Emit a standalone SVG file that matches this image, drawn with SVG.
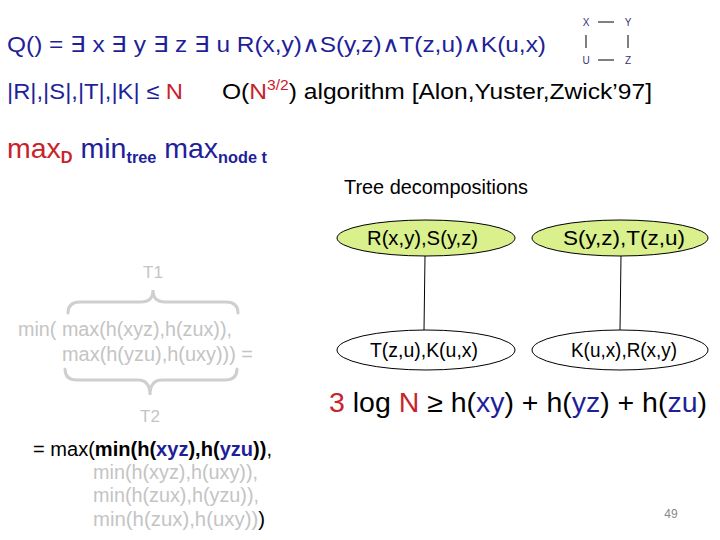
<svg xmlns="http://www.w3.org/2000/svg" width="720" height="540" viewBox="0 0 720 540">
<style>
text{font-family:"Liberation Sans",Arial,sans-serif}
.b{fill:#1f1f99}.r{fill:#c8232c}.k{fill:#000}.g{fill:#c4c4c4}
.lab{font-size:20px;fill:#000}
.node-g{fill:#d9f08c;stroke:#000;stroke-width:1}
.node-w{fill:#fff;stroke:#000;stroke-width:1}
.edge{stroke:#000;stroke-width:1;fill:none}
.brace{stroke:#cfcfcf;stroke-width:3;fill:none;stroke-linecap:round}
.sm{font-size:10px;fill:#333377;text-anchor:middle}
</style>
<rect width="720" height="540" fill="#fff"/>
<text x="7" y="52" font-size="22" class="b" textLength="539" lengthAdjust="spacingAndGlyphs">Q() =  ∃ x ∃ y ∃ z ∃ u R(x,y)∧S(y,z)∧T(z,u)∧K(u,x)</text>
<g id="mini">
<text x="586" y="26" class="sm">X</text><text x="628" y="26" class="sm">Y</text>
<text x="586" y="64" class="sm">U</text><text x="628" y="64" class="sm">Z</text>
<path d="M598 22H614M598 60H614M586 35V48M628 35V48" stroke="#000" stroke-width="1"/>
</g>
<text x="7" y="99" font-size="22" class="b" textLength="176" lengthAdjust="spacingAndGlyphs">|R|,|S|,|T|,|K| ≤ <tspan class="r">N</tspan></text>
<text x="222" y="99" font-size="22" class="k" textLength="430" lengthAdjust="spacingAndGlyphs">O(<tspan class="r">N</tspan><tspan class="r" font-size="14" dy="-9">3/2</tspan><tspan dy="9">) algorithm [Alon,Yuster,Zwick’97]</tspan></text>
<text x="7" y="158" font-size="28" textLength="260" lengthAdjust="spacingAndGlyphs"><tspan class="r">max</tspan><tspan class="r" font-size="16" font-weight="bold" dy="5">D</tspan><tspan class="b" dy="-5"> min</tspan><tspan class="b" font-size="16" font-weight="bold" dy="5">tree</tspan><tspan class="b" dy="-5"> max</tspan><tspan class="b" font-size="16" font-weight="bold" dy="5">node t</tspan></text>
<text x="344" y="194" font-size="20" class="k" textLength="184" lengthAdjust="spacingAndGlyphs">Tree decompositions</text>
<g id="connectors">
<line class="edge" x1="425" y1="256" x2="424" y2="330"/>
<line class="edge" x1="621" y1="256" x2="620" y2="330"/>
</g>
<g id="n1"><ellipse class="node-g" cx="426" cy="238" rx="89" ry="18"/><text class="lab" x="367" y="245" textLength="111" lengthAdjust="spacingAndGlyphs">R(x,y),S(y,z)</text></g>
<g id="n2"><ellipse class="node-g" cx="620" cy="238" rx="88" ry="18"/><text class="lab" x="563" y="245" textLength="122" lengthAdjust="spacingAndGlyphs">S(y,z),T(z,u)</text></g>
<g id="n3"><ellipse class="node-w" cx="426" cy="350" rx="89" ry="20"/><text class="lab" x="370" y="357" textLength="108" lengthAdjust="spacingAndGlyphs">T(z,u),K(u,x)</text></g>
<g id="n4"><ellipse class="node-w" cx="620" cy="350" rx="88" ry="20"/><text class="lab" x="571" y="357" textLength="106" lengthAdjust="spacingAndGlyphs">K(u,x),R(x,y)</text></g>
<text x="153" y="278" font-size="17" class="g" text-anchor="middle">T1</text>
<path class="brace" d="M68 313Q68 302 80 302H141Q153 302 153 290Q153 302 165 302H226Q238 302 238 313"/>
<text x="18" y="336" font-size="20" class="g" textLength="214" lengthAdjust="spacingAndGlyphs">min( max(h(xyz),h(zux)),</text>
<text x="62" y="361" font-size="20" class="g" textLength="191" lengthAdjust="spacingAndGlyphs">max(h(yzu),h(uxy))) =</text>
<path class="brace" d="M65 369Q65 380 77 380H138Q150 380 150 395Q150 380 162 380H225Q237 380 237 369"/>
<text x="150" y="422" font-size="17" class="g" text-anchor="middle">T2</text>
<text x="33" y="456" font-size="20" class="k" textLength="239" lengthAdjust="spacingAndGlyphs">= max(<tspan font-weight="bold">min(h(</tspan><tspan font-weight="bold" class="b">xyz</tspan><tspan font-weight="bold">),h(</tspan><tspan font-weight="bold" class="b">yzu</tspan><tspan font-weight="bold">))</tspan>,</text>
<text x="93" y="479" font-size="20" class="g" textLength="165" lengthAdjust="spacingAndGlyphs">min(h(xyz),h(uxy)),</text>
<text x="93" y="502" font-size="20" class="g" textLength="166" lengthAdjust="spacingAndGlyphs">min(h(zux),h(yzu)),</text>
<text x="93" y="526" font-size="20" class="g" textLength="172" lengthAdjust="spacingAndGlyphs">min(h(zux),h(uxy))<tspan class="k">)</tspan></text>
<text x="329" y="412" font-size="27" class="k" textLength="378" lengthAdjust="spacingAndGlyphs"><tspan class="r">3</tspan> log <tspan class="r">N</tspan> ≥  h(<tspan class="b">xy</tspan>) + h(<tspan class="b">yz</tspan>) + h(<tspan class="b">zu</tspan>)</text>
<text x="671" y="518" font-size="12" fill="#888" text-anchor="middle">49</text>
</svg>
